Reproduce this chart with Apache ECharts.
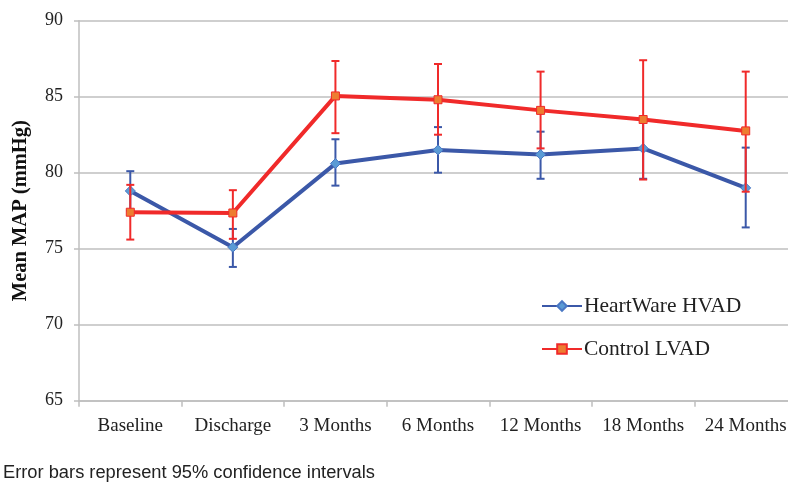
<!DOCTYPE html>
<html>
<head>
<meta charset="utf-8">
<script src="https://cdn.jsdelivr.net/npm/echarts@6/dist/echarts.min.js"></script>
<style>
  html, body { margin: 0; padding: 0; background: #fff; }
  #chart { width: 788px; height: 482px; }
</style>
</head>
<body>
<div id="chart"></div>
<script>
var chart = echarts.init(document.getElementById('chart'), null, { renderer: 'canvas' });

var categories = ['Baseline', 'Discharge', '3 Months', '6 Months', '12 Months', '18 Months', '24 Months'];
var yTicks = [65, 70, 75, 80, 85, 90];

// HeartWare HVAD: mean and 95% CI
var hvadMean = [78.8, 75.1, 80.6, 81.5, 81.2, 81.6, 79.0];
var hvadLow = [77.5, 73.8, 79.15, 80.0, 79.6, 79.6, 76.4];
var hvadHigh = [80.1, 76.3, 82.2, 83.0, 82.7, 83.6, 81.65];

// Control LVAD: mean and 95% CI
var lvadMean = [77.4, 77.35, 85.05, 84.8, 84.1, 83.5, 82.75];
var lvadLow = [75.6, 75.65, 82.6, 82.5, 81.6, 79.55, 78.75];
var lvadHigh = [79.2, 78.85, 87.35, 87.15, 86.65, 87.4, 86.65];

var serif = '"Liberation Serif", "DejaVu Serif", serif';
var blue = '#3b58a8';
var red = '#f02a2a';

function ciData(low, high) {
    var out = [];
    for (var i = 0; i < categories.length; i++) {
        out.push([i, low[i], high[i]]);
    }
    return out;
}

// draws a vertical bar with caps between low and high
function errorBars(color) {
    return function (params, api) {
        var lo = api.coord([api.value(0), api.value(1)]);
        var hi = api.coord([api.value(0), api.value(2)]);
        var hw = 4;
        var st = { stroke: color, lineWidth: 2 };
        return {
            type: 'group',
            children: [
                { type: 'line', shape: { x1: lo[0], y1: lo[1], x2: hi[0], y2: hi[1] }, style: st },
                { type: 'line', shape: { x1: lo[0] - hw, y1: lo[1], x2: lo[0] + hw, y2: lo[1] }, style: st },
                { type: 'line', shape: { x1: hi[0] - hw, y1: hi[1], x2: hi[0] + hw, y2: hi[1] }, style: st }
            ]
        };
    };
}

chart.setOption({
    animation: false,
    grid: {
        left: 79,
        right: -9,
        top: 20.7,
        bottom: 81.3,
        containLabel: false,
        outerBoundsMode: 'none'
    },
    legend: {
        data: ['HeartWare HVAD', 'Control LVAD'],
        orient: 'vertical',
        left: 541,
        top: 295,
        padding: 0,
        itemWidth: 40,
        itemHeight: 12,
        itemGap: 21,
        textStyle: {
            fontFamily: serif,
            fontSize: 21.5,
            color: '#222',
            padding: [0, 0, 0, -3]
        }
    },
    xAxis: {
        type: 'category',
        data: categories,
        boundaryGap: true,
        axisLine: { lineStyle: { color: '#bfbfbf', width: 1.5 } },
        axisTick: { show: true, length: 6, lineStyle: { color: '#bfbfbf', width: 1.5 } },
        axisLabel: {
            margin: 16,
            fontFamily: serif,
            fontSize: 19,
            color: '#222',
            interval: 0
        }
    },
    yAxis: {
        type: 'value',
        min: yTicks[0],
        max: yTicks[yTicks.length - 1],
        interval: 5,
        name: 'Mean MAP (mmHg)',
        nameLocation: 'middle',
        nameGap: 48,
        nameTextStyle: {
            fontFamily: serif,
            fontSize: 20.5,
            fontWeight: 'bold',
            color: '#111'
        },
        axisLine: { show: true, lineStyle: { color: '#bfbfbf', width: 1.5 } },
        axisTick: { show: true, length: 5, lineStyle: { color: '#bfbfbf', width: 1.5 } },
        splitLine: { lineStyle: { color: '#bfbfbf', width: 1.5 } },
        axisLabel: {
            margin: 16,
            fontFamily: serif,
            fontSize: 18,
            color: '#222'
        }
    },
    graphic: [
        {
            type: 'text',
            left: 3,
            top: 464,
            style: {
                text: 'Error bars represent 95% confidence intervals',
                font: '18.3px "Liberation Sans", sans-serif',
                fill: '#222'
            }
        }
    ],
    series: [
        {
            name: 'HVAD CI',
            type: 'custom',
            renderItem: errorBars(blue),
            encode: { x: 0, y: [1, 2] },
            data: ciData(hvadLow, hvadHigh),
            z: 1
        },
        {
            name: 'HeartWare HVAD',
            type: 'line',
            data: hvadMean,
            symbol: 'diamond',
            symbolSize: 10,
            lineStyle: { color: blue, width: 4 },
            itemStyle: { color: '#5b9bd5', borderColor: '#4a78c4', borderWidth: 1 },
            z: 2
        },
        {
            name: 'LVAD CI',
            type: 'custom',
            renderItem: errorBars(red),
            encode: { x: 0, y: [1, 2] },
            data: ciData(lvadLow, lvadHigh),
            z: 3
        },
        {
            name: 'Control LVAD',
            type: 'line',
            data: lvadMean,
            symbol: 'rect',
            symbolSize: 8,
            lineStyle: { color: red, width: 4 },
            itemStyle: { color: '#ed7d31', borderColor: red, borderWidth: 1 },
            z: 4
        }
    ]
});
</script>
</body>
</html>
